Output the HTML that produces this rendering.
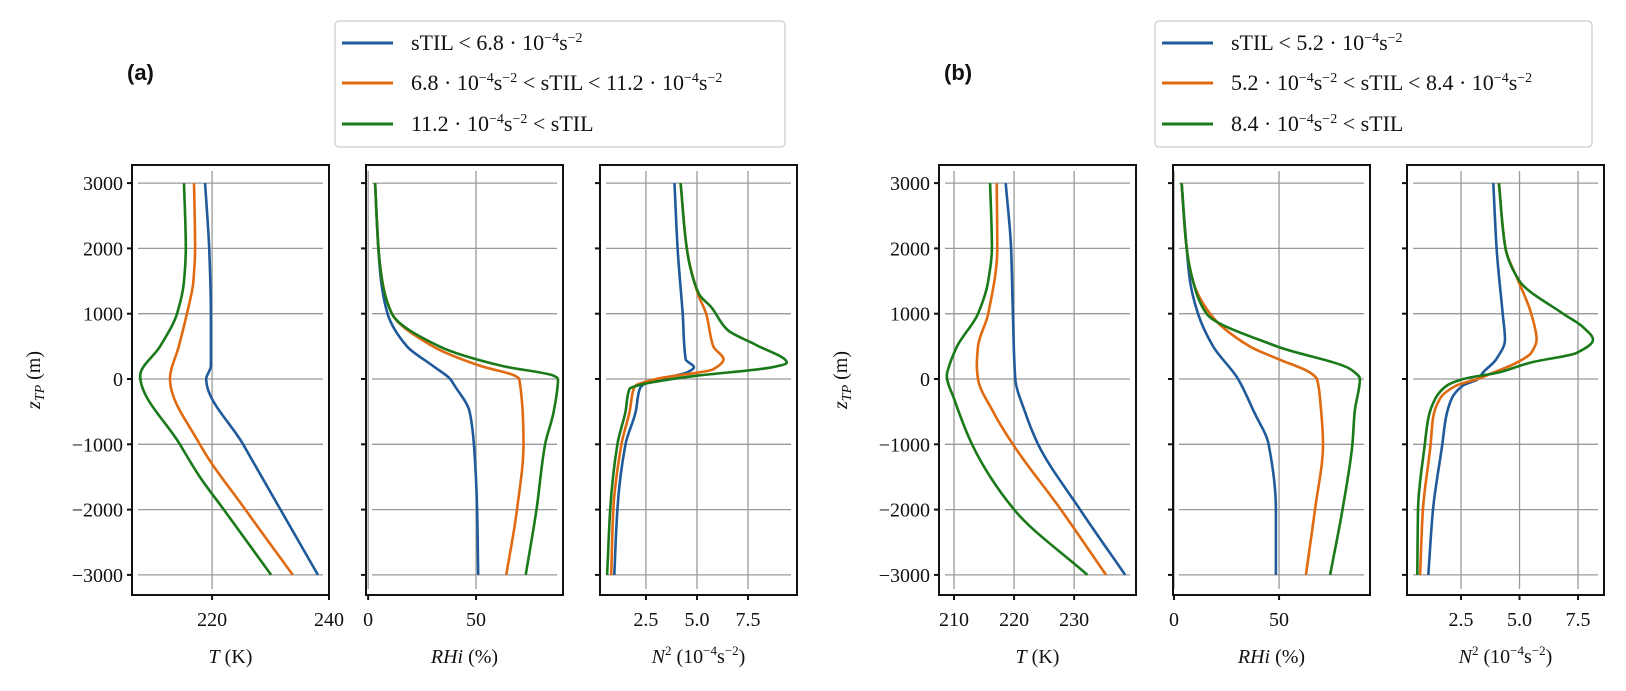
<!DOCTYPE html>
<html><head><meta charset="utf-8">
<style>
html,body{margin:0;padding:0;background:#fff;}
svg{display:block;}
text{font-family:"Liberation Serif",serif;fill:#111;}
.lbl{font-family:"Liberation Sans",sans-serif;font-weight:bold;}
</style></head>
<body>
<svg id="fig" width="1626" height="691" viewBox="0 0 1626 691" xmlns="http://www.w3.org/2000/svg">
<text class="lbl" x="127" y="80" font-size="22">(a)</text>
<text class="lbl" x="944" y="80" font-size="22">(b)</text>
<g id="legA">
<rect x="335" y="21" width="450" height="126" rx="4" fill="#fff" stroke="#ccc" stroke-width="1.2"/>
<line x1="342" y1="43" x2="393" y2="43" stroke="#1f5a9a" stroke-width="3"/>
<line x1="342" y1="83" x2="393" y2="83" stroke="#e06a10" stroke-width="3"/>
<line x1="342" y1="124" x2="393" y2="124" stroke="#1a7a1a" stroke-width="3"/>
<text x="411" y="50" font-size="22">sTIL &lt; 6.8 · 10<tspan font-size="14" dy="-8">−4</tspan><tspan dy="8">s</tspan><tspan font-size="14" dy="-8">−2</tspan></text>
<text x="411" y="90" font-size="22">6.8 · 10<tspan font-size="14" dy="-8">−4</tspan><tspan dy="8">s</tspan><tspan font-size="14" dy="-8">−2</tspan><tspan dy="8"> &lt; sTIL &lt; 11.2 · 10</tspan><tspan font-size="14" dy="-8">−4</tspan><tspan dy="8">s</tspan><tspan font-size="14" dy="-8">−2</tspan></text>
<text x="411" y="131" font-size="22">11.2 · 10<tspan font-size="14" dy="-8">−4</tspan><tspan dy="8">s</tspan><tspan font-size="14" dy="-8">−2</tspan><tspan dy="8"> &lt; sTIL</tspan></text>
</g>
<g id="legB">
<rect x="1155" y="21" width="437" height="126" rx="4" fill="#fff" stroke="#ccc" stroke-width="1.2"/>
<line x1="1162" y1="43" x2="1213" y2="43" stroke="#1f5a9a" stroke-width="3"/>
<line x1="1162" y1="83" x2="1213" y2="83" stroke="#e06a10" stroke-width="3"/>
<line x1="1162" y1="124" x2="1213" y2="124" stroke="#1a7a1a" stroke-width="3"/>
<text x="1231" y="50" font-size="22">sTIL &lt; 5.2 · 10<tspan font-size="14" dy="-8">−4</tspan><tspan dy="8">s</tspan><tspan font-size="14" dy="-8">−2</tspan></text>
<text x="1231" y="90" font-size="22">5.2 · 10<tspan font-size="14" dy="-8">−4</tspan><tspan dy="8">s</tspan><tspan font-size="14" dy="-8">−2</tspan><tspan dy="8"> &lt; sTIL &lt; 8.4 · 10</tspan><tspan font-size="14" dy="-8">−4</tspan><tspan dy="8">s</tspan><tspan font-size="14" dy="-8">−2</tspan></text>
<text x="1231" y="131" font-size="22">8.4 · 10<tspan font-size="14" dy="-8">−4</tspan><tspan dy="8">s</tspan><tspan font-size="14" dy="-8">−2</tspan><tspan dy="8"> &lt; sTIL</tspan></text>
</g>
</svg>
<script>
const yTicks=[3000,2000,1000,0,-1000,-2000,-3000];
const colors=["#1f5a9a","#e06a10","#1a7a1a"];
const aT_blue=[[3000,218.8],[2000,219.5],[1000,219.8],[200,219.8],[0,219.0],[-1000,225.3],[-2000,231.7],[-3000,238.1]];
const aT_orange=[[3000,216.9],[2000,217.1],[1500,216.8],[1000,215.7],[500,214.3],[0,212.8],[-1000,217.9],[-2000,225.7],[-3000,233.8]];
const aT_green=[[3000,215.2],[2000,215.5],[1500,215.2],[1000,214.0],[500,211.1],[50,207.7],[-1000,214.5],[-1500,217.9],[-2000,222],[-3000,230.1]];
const aR_blue=[[3000,3.2],[2000,4.7],[1500,6],[1000,9],[500,18],[200,30],[0,38],[-100,40],[-500,47],[-1000,49],[-2000,50.5],[-3000,51]];
const aR_orange=[[3000,3.2],[2000,4.8],[1500,6.5],[1000,11],[500,30],[200,52],[50,68],[0,70],[-1000,72],[-2000,69],[-3000,64]];
const aR_green=[[3000,3.2],[2000,4.8],[1500,6.5],[1000,11],[500,33],[200,62],[50,86],[0,88],[-500,86],[-1000,82],[-2000,78],[-3000,73]];
const aN_blue=[[3000,3.9],[2000,4.05],[1000,4.3],[300,4.45],[180,4.85],[100,4.5],[0,3.2],[-80,2.4],[-150,2.2],[-500,2.0],[-1000,1.5],[-2000,1.1],[-3000,0.95]];
const aN_orange=[[3000,4.2],[2000,4.5],[1300,5.05],[1000,5.45],[500,5.8],[300,6.3],[150,5.8],[0,3.0],[-100,2.0],[-150,1.9],[-500,1.7],[-1000,1.3],[-2000,0.9],[-3000,0.8]];
const aN_green=[[3000,4.2],[2000,4.5],[1300,5.1],[1100,5.7],[750,6.5],[520,7.9],[250,9.4],[180,8.7],[50,5.0],[0,3.8],[-90,2.2],[-150,1.7],[-500,1.5],[-1000,1.1],[-2000,0.75],[-3000,0.6]];
const bT_blue=[[3000,218.6],[2000,219.5],[1000,219.8],[0,220.2],[-500,221.8],[-1000,224.0],[-2000,231.0],[-3000,238.5]];
const bT_orange=[[3000,217.1],[2000,217.2],[1000,215.7],[500,214.0],[200,213.8],[0,214.0],[-500,216.5],[-1000,219.8],[-2000,227.8],[-3000,235.3]];
const bT_green=[[3000,216.0],[2000,216.3],[1500,215.7],[1000,214.0],[500,210.5],[200,209.2],[50,208.8],[-300,210.0],[-1000,213.0],[-2000,220.0],[-3000,232.2]];
const bR_blue=[[3000,3.6],[2000,6.0],[1500,7.6],[1000,11.4],[500,18.6],[0,30.5],[-500,38],[-1000,45],[-2000,48.5],[-3000,48.5]];
const bR_orange=[[3000,3.6],[2000,6.0],[1500,9],[1000,17.1],[500,36],[300,50],[100,64.7],[0,68],[-300,69.5],[-1000,70.9],[-2000,67.1],[-3000,62.8]];
const bR_green=[[3000,3.6],[2000,6.0],[1500,9],[1000,15.5],[500,48.9],[140,84.5],[0,88.5],[-500,86],[-1000,84.9],[-2000,80.2],[-3000,74.3]];
const bN_blue=[[3000,3.88],[2000,4.02],[1000,4.28],[600,4.38],[300,4.0],[100,3.44],[0,3.23],[-100,2.58],[-300,2.1],[-600,1.85],[-1000,1.7],[-2000,1.3],[-3000,1.1]];
const bN_orange=[[3000,4.12],[2000,4.4],[1500,4.95],[1000,5.5],[600,5.73],[400,5.5],[250,4.88],[100,3.9],[0,3.2],[-100,2.3],[-300,1.6],[-600,1.3],[-1000,1.2],[-2000,0.87],[-3000,0.75]];
const bN_green=[[3000,4.12],[2000,4.4],[1500,5.0],[1000,6.86],[800,7.7],[600,8.14],[400,7.44],[250,5.45],[100,4.1],[0,2.6],[-100,1.9],[-300,1.4],[-600,1.1],[-1000,0.95],[-2000,0.66],[-3000,0.63]];
const tTicksA=[220,240], rTicks=[0,50], nTicks=[2.5,5.0,7.5], tTicksB=[210,220,230];

const NS="http://www.w3.org/2000/svg";
const svg=document.getElementById('fig');
function mk(tag,attrs,parent){const e=document.createElementNS(NS,tag);for(const k in attrs)e.setAttribute(k,attrs[k]);(parent||svg).appendChild(e);return e;}
const TOP=165,BOT=595,Z0=379,ZS=0.0653;
function yScale(z){return Z0-z*ZS;}
// monotone (Fritsch-Carlson) Hermite spline of x as function of y
function smoothPath(pts){
  const n=pts.length, m=new Array(n);
  const s=[],h=[];
  for(let i=0;i<n-1;i++){h[i]=pts[i+1][1]-pts[i][1];s[i]=(pts[i+1][0]-pts[i][0])/h[i];}
  m[0]=s[0];m[n-1]=s[n-2];
  for(let i=1;i<n-1;i++){
    const s0=s[i-1],s1=s[i],h0=h[i-1],h1=h[i];
    if(s0*s1<=0){m[i]=0;}
    else{m[i]=3*(h0+h1)/((2*h1+h0)/s0+(h1+2*h0)/s1);}
  }
  let d="M"+pts[0][0].toFixed(1)+","+pts[0][1].toFixed(1);
  for(let i=0;i<n-1;i++){
    const hh=h[i]/3;
    const c1=[pts[i][0]+m[i]*hh,pts[i][1]+hh];
    const c2=[pts[i+1][0]-m[i+1]*hh,pts[i+1][1]-hh];
    d+="C"+c1[0].toFixed(1)+","+c1[1].toFixed(1)+" "+c2[0].toFixed(1)+","+c2[1].toFixed(1)+" "+pts[i+1][0].toFixed(1)+","+pts[i+1][1].toFixed(1);
  }
  return d;
}
function panel(id,left,dom,xt,xtLabels,series,showY,xlabel){
  const W=197;
  const g=mk('g',{});
  
  
  const xs=v=>left+(v-dom[0])/(dom[1]-dom[0])*W;
  xt.forEach(v=>{const l=mk('line',{x1:xs(v),x2:xs(v),y1:TOP+6,y2:BOT-6,stroke:'#999','stroke-width':1.3},g);
    
    });
  yTicks.forEach(z=>{const l=mk('line',{x1:left+6,x2:left+W-6,y1:yScale(z),y2:yScale(z),stroke:'#999','stroke-width':1.3},g);
    
    });
  series.forEach((s,i)=>{
    const pts=s.map(p=>[xs(p[1]),yScale(p[0])]);
    const p=mk('path',{d:smoothPath(pts),fill:'none',stroke:colors[i],'stroke-width':2.6,'stroke-linejoin':'round'},g);
    
    
  });
  const fr=mk('rect',{x:left,y:TOP,width:W,height:BOT-TOP,fill:'none',stroke:'#111','stroke-width':2},g);
  
  
  yTicks.forEach(z=>{
    mk('line',{x1:left-5,x2:left,y1:yScale(z),y2:yScale(z),stroke:'#111','stroke-width':2},g);
    if(showY){const t=mk('text',{x:left-9,y:yScale(z)+7,'font-size':20,'text-anchor':'end'},g);
      t.textContent=(z<0?'\u2212'+(-z):String(z));
      
      }
  });
  xt.forEach((v,k)=>{
    mk('line',{x1:xs(v),x2:xs(v),y1:BOT,y2:BOT+5,stroke:'#111','stroke-width':2},g);
    const t=mk('text',{x:xs(v),y:BOT+31,'font-size':20,'text-anchor':'middle'},g);
    t.textContent=xtLabels[k];
    
    
  });
  const xl=mk('text',{x:left+W/2,y:BOT+68,'font-size':20,'text-anchor':'middle'},g);
  xl.innerHTML=xlabel;
  
  
  if(showY){
    const yl=mk('text',{x:0,y:0,'font-size':20,'text-anchor':'middle',transform:`translate(${left-92},380) rotate(-90)`},g);
    yl.innerHTML='<tspan font-style="italic">z</tspan><tspan font-style="italic" font-size="14" dy="4">TP</tspan><tspan dy="-4"> (m)</tspan>';
    
    
  }
}
const tLab='<tspan font-style="italic">T</tspan> (K)';
const rLab='<tspan font-style="italic">RHi</tspan> (%)';
const nLab='<tspan font-style="italic">N</tspan><tspan font-size="13" dy="-8">2</tspan><tspan dy="8"> (10</tspan><tspan font-size="13" dy="-8">−4</tspan><tspan dy="8">s</tspan><tspan font-size="13" dy="-8">−2</tspan><tspan dy="8">)</tspan>';
panel('temperature-plot-a',132,[206.3,240],tTicksA,['220','240'],[aT_blue,aT_orange,aT_green],true,tLab);
panel('rhi-plot-a',366,[-1,90.3],rTicks,['0','50'],[aR_blue,aR_orange,aR_green],false,rLab);
panel('n2-plot-a',600,[0.25,9.9],nTicks,['2.5','5.0','7.5'],[aN_blue,aN_orange,aN_green],false,nLab);
panel('temperature-plot-b',939,[207.5,240.3],tTicksB,['210','220','230'],[bT_blue,bT_orange,bT_green],true,tLab);
panel('rhi-plot-b',1173,[-0.5,93.3],rTicks,['0','50'],[bR_blue,bR_orange,bR_green],false,rLab);
panel('n2-plot-b',1407,[0.19,8.61],nTicks,['2.5','5.0','7.5'],[bN_blue,bN_orange,bN_green],false,nLab);
</script>
</body></html>
